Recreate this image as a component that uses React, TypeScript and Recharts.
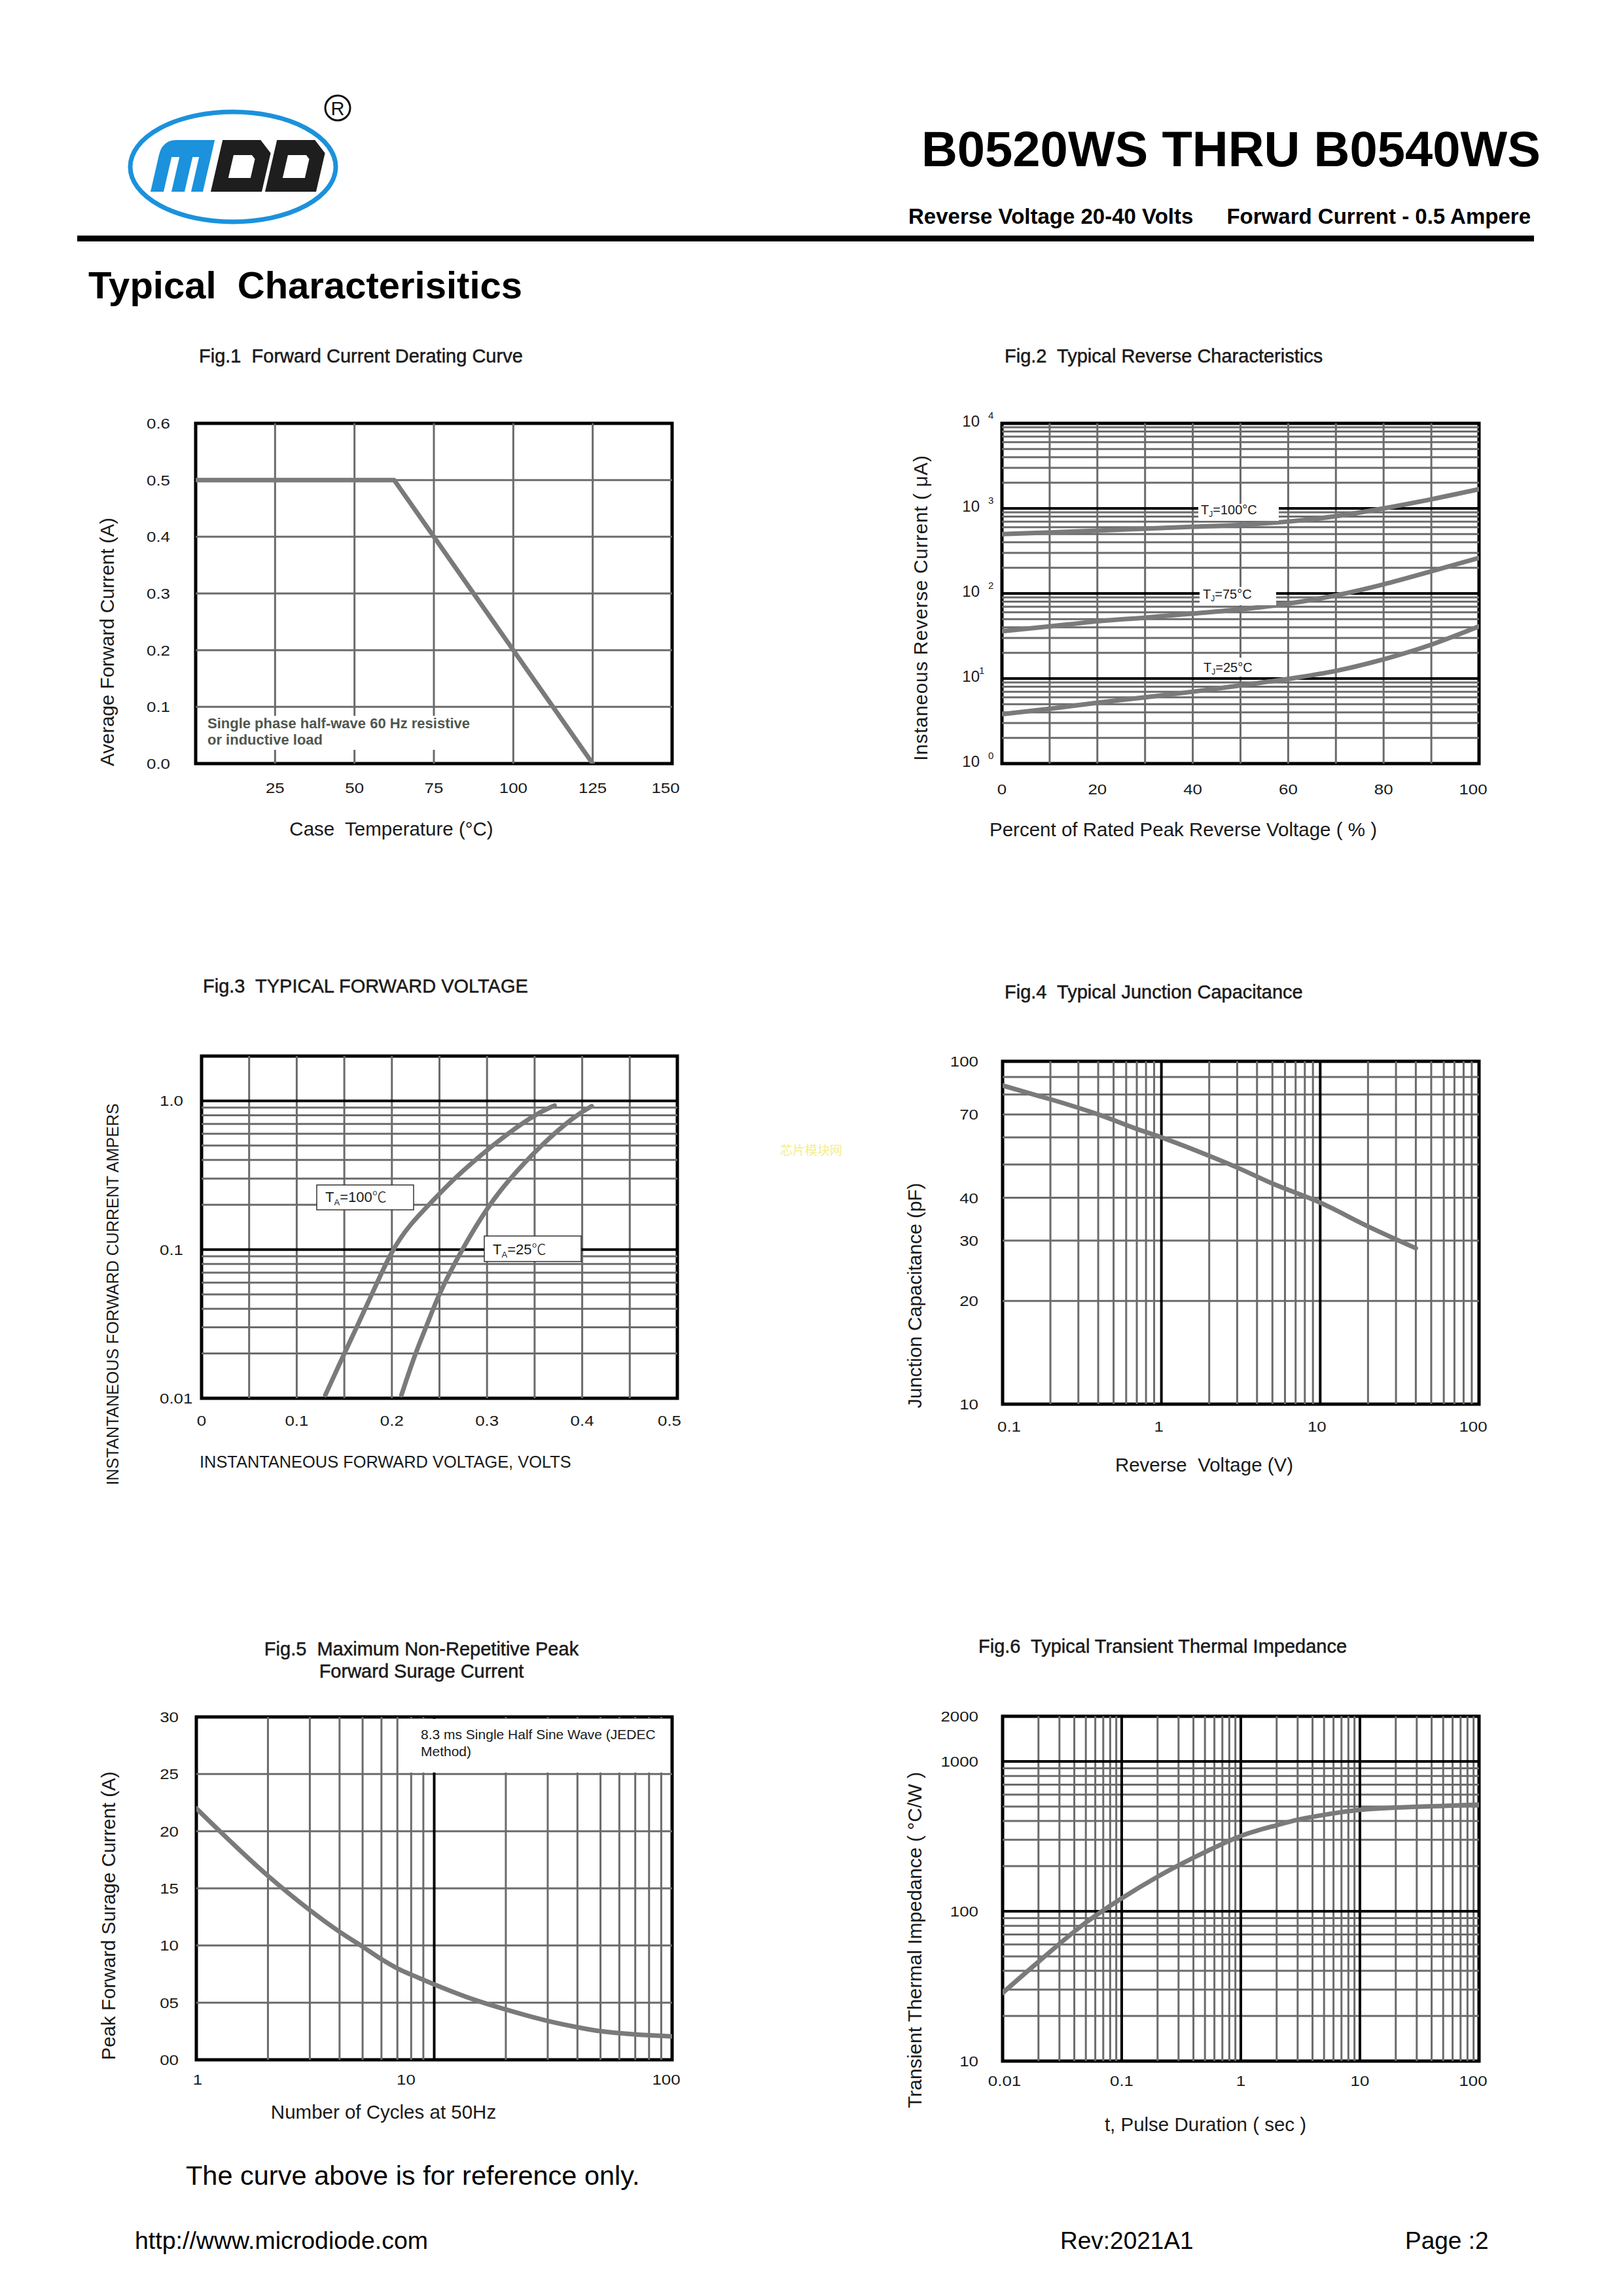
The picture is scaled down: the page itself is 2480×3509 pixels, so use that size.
import React from 'react';
import { LineChart, Line, XAxis, YAxis, ReferenceLine, ReferenceArea } from 'recharts';

const FONT = '"Liberation Sans", Arial, Helvetica, sans-serif';
const CJK = '"Noto Sans CJK SC", sans-serif';
const GRID = '#6b6b6b';
const CURVE = '#7a7a7a';
const INK = '#1a1a1a';

// ---------------- data ----------------
// Fig.1 Forward Current Derating Curve
const fig1CaseTemp = [0, 62.5, 125];
const fig1AvgCurrent = [0.5, 0.5, 0];
const fig1XTicks = [25, 50, 75, 100, 125, 150];
const fig1YTicks = [0, 0.1, 0.2, 0.3, 0.4, 0.5, 0.6];
const fig1VGrid = [25, 50, 75, 100, 125];
const fig1HGrid = [0.1, 0.2, 0.3, 0.4, 0.5];

// Fig.2 Typical Reverse Characteristics
const fig2Percent = [0, 10, 20, 30, 40, 50, 60, 70, 80, 90, 100];
const fig2Tj100 = [500, 522, 548, 578, 608, 640, 700, 810, 1000, 1280, 1680];
const fig2Tj75 = [36, 41, 47, 52, 58, 65, 76, 95, 128, 182, 262];
const fig2Tj25 = [3.8, 4.4, 5.2, 6.0, 7.0, 8.3, 9.9, 12.3, 16.8, 25, 41];
const fig2XTicks = [0, 20, 40, 60, 80, 100];
const fig2YTicks = [1, 10, 100, 1000, 10000];
const fig2VGrid = [10, 20, 30, 40, 50, 60, 70, 80, 90];

// Fig.3 Typical Forward Voltage
const fig3V100 = [0.13, 0.15, 0.163, 0.179, 0.2, 0.22, 0.239, 0.265, 0.305, 0.348, 0.371];
const fig3I100 = [0.0105, 0.02, 0.03, 0.05, 0.1, 0.15, 0.2, 0.3, 0.5, 0.8, 0.93];
const fig3V25 = [0.21, 0.2245, 0.236, 0.249, 0.2734, 0.302, 0.324, 0.356, 0.393, 0.41];
const fig3I25 = [0.0105, 0.02, 0.03, 0.05, 0.1, 0.2, 0.3, 0.5, 0.8, 0.92];
const fig3XTicks = [0, 0.1, 0.2, 0.3, 0.4, 0.5];
const fig3XTickLabels = ['0', '0.1', '0.2', '0.3', '0.4', '0.5'];
const fig3YTicks = [0.01, 0.1, 1];
const fig3YTickLabels = ['0.01', '0.1', '1.0'];
const fig3VGrid = [0.05, 0.1, 0.15, 0.2, 0.25, 0.3, 0.35, 0.4, 0.45];

// Fig.4 Typical Junction Capacitance
const fig4Voltage = [0.1, 0.15, 0.2, 0.4, 0.7, 1, 2, 3, 5, 10, 20, 40];
const fig4Cap = [85, 80.5, 77.5, 70, 63.5, 60, 53, 49, 44, 38.7, 33, 28.5];
const fig4XTicks = [0.1, 1, 10, 100];
const fig4YTicks = [10, 20, 30, 40, 70, 100];
const fig4HGrid = [20, 30, 40, 50, 60, 70, 80, 90];

// Fig.5 Maximum Non-Repetitive Peak Forward Surge Current
const fig5Cycles = [1, 2, 3, 4, 5, 6, 7, 8, 9, 10, 15, 20, 30, 40, 50, 60, 70, 80, 100];
const fig5Current = [22, 16.1, 13.1, 11.2, 9.9, 8.8, 8.0, 7.45, 7.0, 6.6, 5.2, 4.4, 3.4, 2.85, 2.5, 2.33, 2.22, 2.15, 2.05];
const fig5XTicks = [1, 10, 100];
const fig5YTicks = [0, 5, 10, 15, 20, 25, 30];
const fig5HGrid = [5, 10, 15, 20, 25];

// Fig.6 Typical Transient Thermal Impedance
const fig6Time = [0.01, 0.02, 0.05, 0.1, 0.2, 0.5, 1, 2, 3, 5, 10, 20, 50, 100];
const fig6Z = [28.5, 46, 84, 122, 170, 248, 318, 375, 408, 440, 475, 492, 505, 515];
const fig6XTicks = [0.01, 0.1, 1, 10, 100];
const fig6XTickLabels = ['0.01', '0.1', '1', '10', '100'];
const fig6YTicks = [10, 100, 1000, 2000];

// log-grid helper (grid structure, not data)
const minors = (from: number, to: number) => {
  const out: number[] = [];
  for (let d = from; d < to * 0.999; d *= 10) {
    for (let k = 2; k <= 9; k++) out.push(Number((d * k).toPrecision(6)));
  }
  return out;
};

const zip = (xs: number[], ys: number[]) => xs.map((x, i) => ({ x, y: ys[i] }));

type Box = { l: number; t: number; r: number; b: number };
type Series = { data: { x: number; y: number }[]; type?: 'linear' | 'monotone' | 'basis' };

const PAD = 130;
const XH = 70;
const YW = 110;

function Plot(p: {
  box: Box;
  xDomain: [number, number];
  yDomain: [number, number];
  xLog?: boolean;
  yLog?: boolean;
  xTicks: number[];
  yTicks: number[];
  xTick: (props: any) => React.ReactElement;
  yTick: (props: any) => React.ReactElement;
  vMinor?: number[];
  vMajor?: number[];
  hMinor?: number[];
  hMajor?: number[];
  series: Series[];
}) {
  const w = p.box.r - p.box.l;
  const h = p.box.b - p.box.t;
  return (
    <div style={{ position: 'absolute', left: p.box.l - PAD, top: p.box.t - PAD }}>
      <LineChart
        width={w + 2 * PAD}
        height={h + 2 * PAD}
        margin={{ top: PAD, right: PAD, bottom: PAD - XH, left: PAD - YW }}
      >
        <XAxis
          type="number"
          dataKey="x"
          scale={p.xLog ? 'log' : 'linear'}
          domain={p.xDomain}
          allowDataOverflow
          ticks={p.xTicks}
          interval={0}
          height={XH}
          tickSize={0}
          tickMargin={0}
          axisLine={false}
          tickLine={false}
          tick={p.xTick}
        />
        <YAxis
          type="number"
          dataKey="y"
          scale={p.yLog ? 'log' : 'linear'}
          domain={p.yDomain}
          allowDataOverflow
          ticks={p.yTicks}
          interval={0}
          width={YW}
          tickSize={0}
          tickMargin={0}
          axisLine={false}
          tickLine={false}
          tick={p.yTick}
        />
        {(p.vMinor || []).map((v) => (
          <ReferenceLine key={'vm' + v} x={v} stroke={GRID} strokeWidth={3} />
        ))}
        {(p.hMinor || []).map((v) => (
          <ReferenceLine key={'hm' + v} y={v} stroke={GRID} strokeWidth={3} />
        ))}
        {(p.vMajor || []).map((v) => (
          <ReferenceLine key={'vM' + v} x={v} stroke="#000" strokeWidth={4} />
        ))}
        {(p.hMajor || []).map((v) => (
          <ReferenceLine key={'hM' + v} y={v} stroke="#000" strokeWidth={4} />
        ))}
        {p.series.map((s, i) => (
          <Line
            key={'s' + i}
            data={s.data}
            dataKey="y"
            type={s.type || 'monotone'}
            stroke={CURVE}
            strokeWidth={7}
            strokeLinecap="round"
            strokeLinejoin="round"
            dot={false}
            activeDot={false}
            isAnimationActive={false}
          />
        ))}
        <ReferenceArea
          x1={p.xDomain[0]}
          x2={p.xDomain[1]}
          y1={p.yDomain[0]}
          y2={p.yDomain[1]}
          fill="none"
          fillOpacity={0}
          stroke="#000"
          strokeWidth={5}
        />
      </LineChart>
    </div>
  );
}

// tick renderers (reference glyphs are slightly wide, so stretch horizontally)
const TICK_FS = 22.5;
const STRETCH = 1.15;
const xTickAt = (dy: number, fmt: (v: number) => string, shift?: (v: number) => number) =>
  (props: any) => {
    const v = props.payload.value;
    const x = props.x + (shift ? shift(v) : 0);
    return (
      <g transform={`translate(${x},${props.y + dy}) scale(${STRETCH},1)`}>
        <text x={0} y={0} textAnchor="middle" fontSize={TICK_FS} fontFamily={FONT} fill={INK}>
          {fmt(v)}
        </text>
      </g>
    );
  };
const yTickAt = (dx: number, dy: number, fmt: (v: number) => string, anchor: 'end' | 'start' = 'end') =>
  (props: any) => (
    <g transform={`translate(${props.x - dx},${props.y + dy}) scale(${STRETCH},1)`}>
      <text x={0} y={0} textAnchor={anchor} fontSize={TICK_FS} fontFamily={FONT} fill={INK}>
        {fmt(props.payload.value)}
      </text>
    </g>
  );
const powTick = (props: any) => {
  const v = props.payload.value;
  const e = Math.round(Math.log10(v));
  return (
    <g>
      <text x={props.x - 34} y={props.y + 5} textAnchor="end" fontSize={24} fontFamily={FONT} fill={INK}>10</text>
      <text x={props.x - (e === 1 ? 35 : 21)} y={props.y - 7} textAnchor="start" fontSize={15} fontFamily={FONT} fill={INK}>{String(e)}</text>
    </g>
  );
};

const lookup = (vals: number[], labels: string[]) => (v: number) => {
  const i = vals.findIndex((a) => Math.abs(a - v) < 1e-9);
  return i >= 0 ? labels[i] : String(v);
};
const edgeShift = (lo: number, hi: number, dLo: number, dHi: number, extra?: Record<string, number>) => (v: number) => {
  if (extra && extra[String(v)] !== undefined) return extra[String(v)];
  if (Math.abs(v - hi) < 1e-9) return dHi;
  if (Math.abs(v - lo) < 1e-9) return dLo;
  return 0;
};

const BOX1: Box = { l: 299, t: 647, r: 1027, b: 1167 };
const BOX2: Box = { l: 1531, t: 647, r: 2260, b: 1167 };
const BOX3: Box = { l: 308, t: 1614, r: 1035, b: 2137 };
const BOX4: Box = { l: 1532, t: 1622, r: 2260, b: 2146 };
const BOX5: Box = { l: 300, t: 2624, r: 1027, b: 3148 };
const BOX6: Box = { l: 1532, t: 2623, r: 2260, b: 3150 };

function T(props: any) {
  const { children, size = 28, weight = 'normal', fill = INK, family = FONT, ...rest } = props;
  return (
    <text fontSize={size} fontWeight={weight} fill={fill} fontFamily={family} style={{ whiteSpace: 'pre' }} {...rest}>
      {children}
    </text>
  );
}

function Title(props: any) {
  return <T size={29} stroke={INK} strokeWidth={0.5} {...props} />;
}

function VText({ cx, cy, children, size = 29.5, spacing = 0 }: any) {
  return (
    <text
      transform={`translate(${cx},${cy}) rotate(-90)`}
      textAnchor="middle"
      dominantBaseline="central"
      fontSize={size}
      fontFamily={FONT}
      fill={INK}
      letterSpacing={spacing}
      style={{ whiteSpace: 'pre' }}
    >
      {children}
    </text>
  );
}

function Logo() {
  const base = 293;
  const top = 214;
  const d = (x0: number) =>
    `M${x0},${base} L${x0},${top} L${x0 + 58},${top} L${x0 + 78},${top + 20} L${x0 + 78},${base} Z ` +
    `M${x0 + 22},${top + 23} L${x0 + 50},${top + 23} L${x0 + 56},${top + 29} L${x0 + 56},${base - 21} L${x0 + 22},${base - 21} Z`;
  const m =
    `M230,${base} L230,236 Q230,${top} 252,${top} L310,${top} L310,${base} L292,${base} L292,240 L282,240 L282,${base} ` +
    `L262,${base} L262,240 L250,240 L250,${base} Z`;
  return (
    <g>
      <ellipse cx={356} cy={255} rx={157} ry={84} fill="none" stroke="#1b92db" strokeWidth={7} />
      <g transform={`translate(0,${base}) skewX(-13) translate(0,${-base})`}>
        <path d={m} fill="#1b92db" />
        <path d={d(322)} fill="#1e1e1e" fillRule="evenodd" />
        <path d={d(405)} fill="#1e1e1e" fillRule="evenodd" />
      </g>
      <circle cx={516} cy={165} r={19} fill="none" stroke="#111" strokeWidth={3} />
      <T x={516} y={176} size={29} textAnchor="middle" fill="#111">R</T>
    </g>
  );
}

export default function App() {
  return (
    <div style={{ position: 'absolute', left: 0, top: 0, width: 2480, height: 3509, background: '#fff', overflow: 'hidden' }}>
      {/* Fig.1 */}
      <Plot
        box={BOX1}
        xDomain={[0, 150]}
        yDomain={[0, 0.6]}
        xTicks={fig1XTicks}
        yTicks={fig1YTicks}
        xTick={xTickAt(45, (v) => String(v), edgeShift(0, 150, 0, -10))}
        yTick={yTickAt(39, 8, (v) => v.toFixed(1))}
        vMinor={fig1VGrid}
        hMinor={fig1HGrid}
        series={[{ data: zip(fig1CaseTemp, fig1AvgCurrent), type: 'linear' }]}
      />
      {/* Fig.2 */}
      <Plot
        box={BOX2}
        xDomain={[0, 100]}
        yDomain={[1, 10000]}
        yLog
        xTicks={fig2XTicks}
        yTicks={fig2YTicks}
        xTick={xTickAt(47, (v) => String(v), edgeShift(0, 100, 0, -9))}
        yTick={powTick}
        vMinor={fig2VGrid}
        hMinor={minors(1, 10000)}
        hMajor={[10, 100, 1000]}
        series={[
          { data: zip(fig2Percent, fig2Tj100) },
          { data: zip(fig2Percent, fig2Tj75) },
          { data: zip(fig2Percent, fig2Tj25) },
        ]}
      />
      {/* Fig.3 */}
      <Plot
        box={BOX3}
        xDomain={[0, 0.5]}
        yDomain={[0.01, 2]}
        yLog
        xTicks={fig3XTicks}
        yTicks={fig3YTicks}
        xTick={xTickAt(42, lookup(fig3XTicks, fig3XTickLabels), edgeShift(0, 0.5, 0, -12))}
        yTick={yTickAt(64, 8, lookup(fig3YTicks, fig3YTickLabels), 'start')}
        vMinor={fig3VGrid}
        hMinor={minors(0.01, 1)}
        hMajor={[0.1, 1]}
        series={[
          { data: zip(fig3V100, fig3I100), type: 'basis' },
          { data: zip(fig3V25, fig3I25), type: 'basis' },
        ]}
      />
      {/* Fig.4 */}
      <Plot
        box={BOX4}
        xDomain={[0.1, 100]}
        yDomain={[10, 100]}
        xLog
        yLog
        xTicks={fig4XTicks}
        yTicks={fig4YTicks}
        xTick={xTickAt(42, (v) => String(v), edgeShift(0.1, 100, 10, -9, { '1': -4, '10': -5 }))}
        yTick={yTickAt(37, 8, (v) => String(v))}
        vMinor={minors(0.1, 100)}
        vMajor={[1, 10]}
        hMinor={fig4HGrid}
        series={[{ data: zip(fig4Voltage, fig4Cap) }]}
      />
      {/* Fig.5 */}
      <Plot
        box={BOX5}
        xDomain={[1, 100]}
        yDomain={[0, 30]}
        xLog
        xTicks={fig5XTicks}
        yTicks={fig5YTicks}
        xTick={xTickAt(38, (v) => String(v), edgeShift(1, 100, 2, -9, { '10': -43 }))}
        yTick={yTickAt(27, 8, (v) => String(v).padStart(2, '0'))}
        vMinor={minors(1, 100)}
        vMajor={[10]}
        hMinor={fig5HGrid}
        series={[{ data: zip(fig5Cycles, fig5Current) }]}
      />
      {/* Fig.6 */}
      <Plot
        box={BOX6}
        xDomain={[0.01, 100]}
        yDomain={[10, 2000]}
        xLog
        yLog
        xTicks={fig6XTicks}
        yTicks={fig6YTicks}
        xTick={xTickAt(38, lookup(fig6XTicks, fig6XTickLabels), edgeShift(0.01, 100, 3, -9))}
        yTick={yTickAt(37, 8, (v) => String(v))}
        vMinor={minors(0.01, 100)}
        vMajor={[0.1, 1, 10]}
        hMinor={minors(10, 1000)}
        hMajor={[100, 1000]}
        series={[{ data: zip(fig6Time, fig6Z) }]}
      />

      <svg width={2480} height={3509} style={{ position: 'absolute', left: 0, top: 0, pointerEvents: 'none' }}>
        {/* header */}
        <Logo />
        <T x={2354} y={254} size={76} weight="bold" textAnchor="end" fill="#000">B0520WS THRU B0540WS</T>
        <T x={1388} y={342} size={33} weight="bold" fill="#000">Reverse Voltage 20-40 Volts</T>
        <T x={2339} y={342} size={33} weight="bold" textAnchor="end" fill="#000">Forward Current - 0.5 Ampere</T>
        <rect x={118} y={360} width={2226} height={9} fill="#000" />
        <T x={135} y={456} size={58} weight="bold" fill="#000">Typical  Characterisitics</T>

        {/* Fig.1 texts */}
        <Title x={304} y={554}>Fig.1  Forward Current Derating Curve</Title>
        <T x={598} y={1277} size={29.5} textAnchor="middle">Case  Temperature (°C)</T>
        <VText cx={163} cy={981}>Average Forward Current (A)</VText>
        <rect x={304} y={1094} width={420} height={52} fill="#fff" />
        <T x={317} y={1113} size={22} weight="bold" fill="#4f574f">Single phase half-wave 60 Hz resistive</T>
        <T x={317} y={1138} size={22} weight="bold" fill="#4f574f">or inductive load</T>

        {/* Fig.2 texts */}
        <Title x={1535} y={554}>Fig.2  Typical Reverse Characteristics</Title>
        <T x={1808} y={1278} size={29.5} textAnchor="middle">Percent of Rated Peak Reverse Voltage ( % )</T>
        <VText cx={1406} cy={929} spacing={0.8}>Instaneous Reverse Current ( μA)</VText>
        <rect x={1831} y={770} width={123} height={26} fill="#fff" />
        <rect x={1833} y={897} width={117} height={28} fill="#fff" />
        <rect x={1833} y={1005} width={117} height={29} fill="#fff" />
        <T x={1835} y={786} size={20}>T<tspan fontSize={12} dy={4}>J</tspan><tspan dy={-4}>=100°C</tspan></T>
        <T x={1838} y={915} size={20}>T<tspan fontSize={12} dy={4}>J</tspan><tspan dy={-4}>=75°C</tspan></T>
        <T x={1839} y={1027} size={20}>T<tspan fontSize={12} dy={4}>J</tspan><tspan dy={-4}>=25°C</tspan></T>

        {/* Fig.3 texts */}
        <Title x={310} y={1517}>Fig.3  TYPICAL FORWARD VOLTAGE</Title>
        <T x={305} y={2243} size={25.4}>INSTANTANEOUS FORWARD VOLTAGE, VOLTS</T>
        <VText cx={172} cy={1978} size={25}>INSTANTANEOUS FORWARD CURRENT AMPERS</VText>
        <rect x={484} y={1811} width={148} height={38} fill="#fff" stroke="#333" strokeWidth={1.5} />
        <rect x={740} y={1889} width={148} height={39} fill="#fff" stroke="#333" strokeWidth={1.5} />
        <T x={497} y={1837} size={22}>T<tspan fontSize={13} dy={5}>A</tspan><tspan dy={-5}>=100</tspan><tspan fontFamily={CJK} fontWeight={300}>℃</tspan></T>
        <T x={753} y={1917} size={22}>T<tspan fontSize={13} dy={5}>A</tspan><tspan dy={-5}>=25</tspan><tspan fontFamily={CJK} fontWeight={300}>℃</tspan></T>
        <T x={1192} y={1765} size={19} family={CJK} fill="#f4ee8a">芯片模块网</T>

        {/* Fig.4 texts */}
        <Title x={1535} y={1526}>Fig.4  Typical Junction Capacitance</Title>
        <T x={1840} y={2249} size={29.5} textAnchor="middle">Reverse  Voltage (V)</T>
        <VText cx={1397} cy={1980}>Junction Capacitance (pF)</VText>

        {/* Fig.5 texts */}
        <Title x={644} y={2530} textAnchor="middle">Fig.5  Maximum Non-Repetitive Peak</Title>
        <Title x={644} y={2564} textAnchor="middle">Forward Surage Current</Title>
        <T x={586} y={3238} size={29.5} textAnchor="middle">Number of Cycles at 50Hz</T>
        <VText cx={165} cy={2928}>Peak Forward Surage Current (A)</VText>
        <rect x={618} y={2627} width={406} height={82} fill="#fff" />
        <T x={643} y={2658} size={21}>8.3 ms Single Half Sine Wave (JEDEC</T>
        <T x={643} y={2684} size={21}>Method)</T>

        {/* Fig.6 texts */}
        <Title x={1495} y={2526}>Fig.6  Typical Transient Thermal Impedance</Title>
        <T x={1842} y={3257} size={29.5} textAnchor="middle">t, Pulse Duration ( sec )</T>
        <VText cx={1397} cy={2965} size={30}>Transient Thermal Impedance ( °C/W )</VText>

        {/* footer */}
        <T x={284} y={3339} size={41.5} fill="#000">The curve above is for reference only.</T>
        <T x={206} y={3437} size={37.5} fill="#000">http://www.microdiode.com</T>
        <T x={1620} y={3437} size={37} fill="#000">Rev:2021A1</T>
        <T x={2147} y={3437} size={37} fill="#000">Page :2</T>
      </svg>
    </div>
  );
}
